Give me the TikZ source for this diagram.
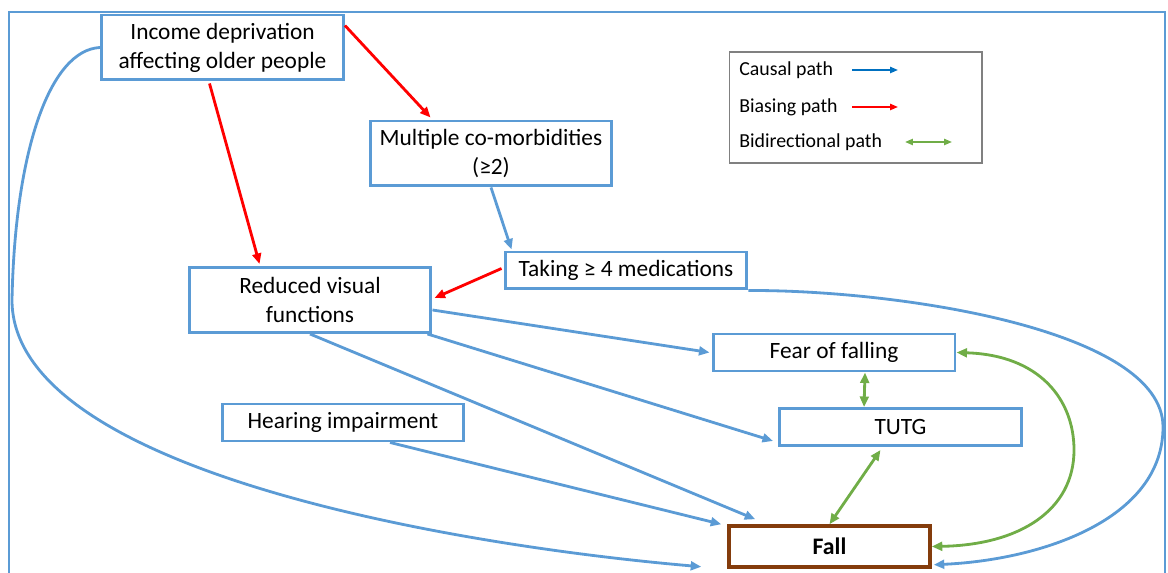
\documentclass[tikz,border=0pt]{standalone}
\usepackage{fontspec}
\setmainfont{Carlito}
\usepackage[HTML]{xcolor}
\usepackage{tikz}
\usetikzlibrary{positioning, arrows, arrows.meta, calc}

\definecolor{boxblue}{HTML}{5B9BD5}
\definecolor{legblue}{HTML}{0070C0}
\definecolor{biasred}{HTML}{FF0000}
\definecolor{bigreen}{HTML}{70AD47}
\definecolor{fallbrown}{HTML}{843C0C}

\begin{document}
\begin{tikzpicture}[x=0.02cm,y=-0.02cm,
  varbox/.style={draw=boxblue,line width=1.7pt,fill=white,minimum width=4.84cm,minimum height=0.74cm,align=center,inner sep=0pt,font=\fontsize{13.3}{16.4}\selectfont},
  tallbox/.style={varbox,minimum height=1.3cm},
  causal/.style={draw=boxblue,line width=1.6pt,-{Triangle[length=6pt,width=5pt]}},
  biasing/.style={causal,draw=biasred},
  bidir/.style={causal,draw=bigreen,{Triangle[length=6pt,width=5pt]}-{Triangle[length=6pt,width=5pt]}},
  legtext/.style={anchor=west,font=\fontsize{11.3}{13}\selectfont,inner sep=0pt},
  legarrow/.style={line width=1pt,-{Triangle[length=4.5pt,width=3.5pt]}}]
\useasboundingbox (0,0) rectangle (1168,573);
% frame
\draw[boxblue,line width=1pt] (9,600) -- (9,12) -- (1165,12) -- (1165,600);
% variables
\node[tallbox] (income) at (222.5,47.5) {Income deprivation\\affecting older people};
\node[tallbox] (comorb) at (491,153.5) {Multiple co-morbidities\\(≥2)};
\node[varbox] (meds) at (626,270.5) {Taking ≥ 4 medications};
\node[tallbox] (visual) at (310,300) {Reduced visual\\functions};
\node[varbox] (hearing) at (343,422.5) {Hearing impairment};
\node[varbox] (fear) at (834,352.5) {Fear of falling};
\node[varbox] (tutg) at (900.5,427) {TUTG};
\node[varbox,draw=fallbrown,line width=2pt,minimum width=4.02cm,minimum height=0.82cm,font=\fontsize{13.5}{16}\selectfont\bfseries] (fall) at (829.5,546.5) {Fall};
% legend
\node[draw=gray,line width=0.6pt,minimum width=5.06cm,minimum height=2.22cm,inner sep=0pt] (legend) at (855.5,107.5) {};
\node[legtext] (lcausal) at (739,70) {Causal path};
\node[legtext] (lbias) at (739,107) {Biasing path};
\node[legtext] (lbidir) at (739,142) {Bidirectional path};
\coordinate (ca) at (852,70); \coordinate (cb) at (898,70);
\coordinate (ba) at (852,107); \coordinate (bb) at (898,107);
\coordinate (da) at (905,142); \coordinate (db) at (952,142);
\draw[legarrow,legblue] (ca) -- (cb);
\draw[legarrow,biasred] (ba) -- (bb);
\draw[legarrow,bigreen,{Triangle[length=4.5pt,width=3.5pt]}-{Triangle[length=4.5pt,width=3.5pt]}] (da) -- (db);
% biasing paths
\draw[biasing] ($(income.north east)+(0,12)$) -- ($(comorb.north west)+(62,-2)$);
\draw[biasing] ($(income.south)+(-13,2)$) -- ($(visual.north west)+(72,-2)$);
\draw[biasing] ($(meds.west)+(-2,-2)$) -- ($(visual.east)+(2,-2)$);
% causal paths
\draw[causal] (comorb.south) -- ($(meds.north west)+(8,-1)$);
\draw[causal] ($(visual.east)+(0,10)$) -- ($(fear.west)+(-2,0)$);
\draw[causal] ($(visual.south east)+(-5,0)$) -- ($(tutg.south west)+(-5,-6)$);
\draw[causal] (visual.south) -- ($(fall.north west)+(28,-5)$);
\draw[causal] ($(hearing.south)+(47,0)$) -- ($(fall.north west)+(-6,0)$);
\draw[causal] (income.west) .. controls (50,50) and (15,150) .. (12,300)
  .. controls (12,470) and (450,545) .. ($(fall.south west)+(-26,-2)$);
\draw[causal] (meds.south east) .. controls (900,290) and (1163,330) .. (1163,427)
  .. controls (1163,520) and (1040,560) .. ($(fall.south east)+(2,-4)$);
% bidirectional paths
\draw[bidir] (fear.east) .. controls (1040,355) and (1074,400) .. (1074,450)
  .. controls (1074,510) and (1020,545) .. (fall.east);
\draw[bidir] ($(fear.south)+(31,0)$) -- ($(tutg.north west)+(86,0)$);
\draw[bidir] ($(tutg.south)+(-20,3)$) -- (fall.north);
\end{tikzpicture}
\end{document}
